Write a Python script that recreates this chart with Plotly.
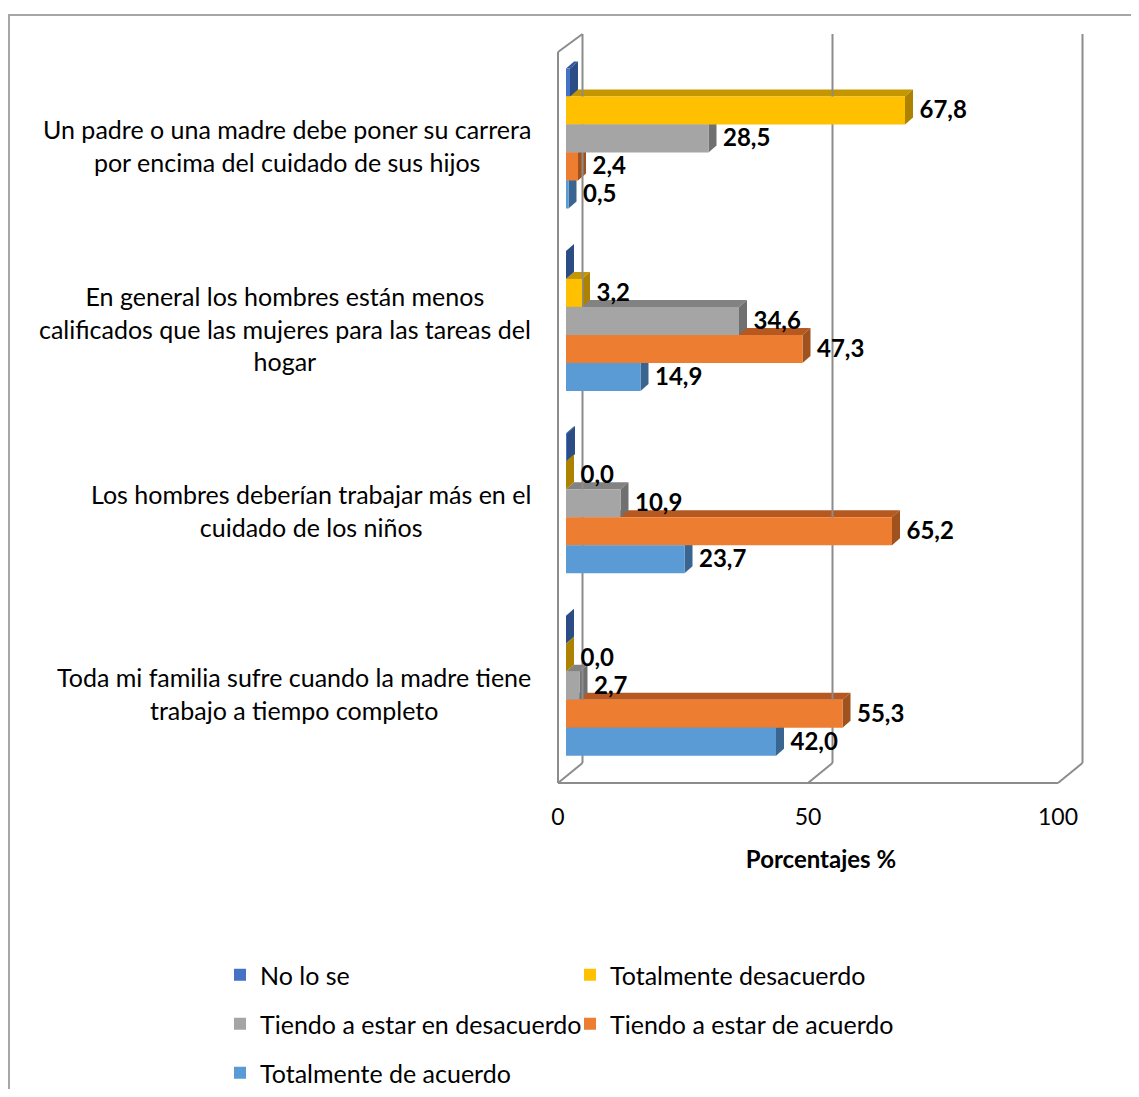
import plotly.graph_objects as go

# ---------------- data ----------------
categories = [
    "Un padre o una madre debe poner su carrera<br>por encima del cuidado de sus hijos",
    "En general los hombres están menos<br>calificados que las mujeres para las tareas del<br>hogar",
    "Los hombres deberían trabajar más en el<br>cuidado de los niños",
    "Toda mi familia sufre cuando la madre tiene<br>trabajo a tiempo completo",
]
series_names = [
    "No lo se",
    "Totalmente desacuerdo",
    "Tiendo a estar en desacuerdo",
    "Tiendo a estar de acuerdo",
    "Totalmente de acuerdo",
]
no_lo_se = [0.8, 0.0, 0.2, 0.0]
totalmente_desacuerdo = [67.8, 3.2, 0.0, 0.0]
tiendo_desacuerdo = [28.5, 34.6, 10.9, 2.7]
tiendo_acuerdo = [2.4, 47.3, 65.2, 55.3]
totalmente_acuerdo = [0.5, 14.9, 23.7, 42.0]
show_labels = [False, True, True, True, True]
x_ticks = [0, 50, 100]
x_title = "Porcentajes %"

series_values = [no_lo_se, totalmente_desacuerdo, tiendo_desacuerdo,
                 tiendo_acuerdo, totalmente_acuerdo]

# ---------------- styles ----------------
front_colors = ["#4472C4", "#FFC000", "#A5A5A5", "#ED7D31", "#5B9BD5"]
side_colors = ["#2C4C86", "#AD8200", "#707070", "#A0521E", "#3A6590"]
top_colors = ["#34599C", "#C49600", "#828282", "#B6581F", "#41719C"]
FONT = "Lato"
legend_rows = ["legend", "legend", "legend2", "legend2", "legend3"]
legend_row_px = {"legend": 975, "legend2": 1024, "legend3": 1073}

BODY = 8                      # page body margin (screen offset)
W, H = 1139 - 2 * BODY, 1097 - 2 * BODY
ML, MR, MT, MB = 548, 45, 24, 304
PX_PER_X = 5.0
PX_PER_CAT = 182.4
x_range = [-2.0, -2.0 + (W - ML - MR) / PX_PER_X]
y_top = -(138.5 - BODY - MT) / PX_PER_CAT
y_bot = y_top + (H - MT - MB) / PX_PER_CAT


def py(px):  # screen pixel row -> y data units (decoration only)
    return y_top + (px - BODY - MT) / PX_PER_CAT


def ppx(px):  # screen pixel col -> paper x
    return (px - BODY - ML) / (W - ML - MR)


def ppy(px):  # screen pixel row -> paper y
    return (H - MB - (px - BODY)) / (H - MT - MB)


bw = 28 / PX_PER_CAT
off0 = -2.5 * bw
ddx = 8 / PX_PER_X
ddy = 7 / PX_PER_CAT
ypos = list(range(len(categories)))

fig = go.Figure()
shapes = []

# 3D faces (top faces first, then side faces) drawn beneath the front bars
for kind in ("top", "side"):
    for i, vals in enumerate(series_values):
        for j, v in enumerate(vals):
            yt = ypos[j] + off0 + i * bw
            yb = yt + bw
            if kind == "top":
                path = (f"M 0,{yt} L {v},{yt} L {v + ddx},{yt - ddy} "
                        f"L {ddx},{yt - ddy} Z")
                col = top_colors[i]
            else:
                path = (f"M {v},{yt} L {v + ddx},{yt - ddy} "
                        f"L {v + ddx},{yb - ddy} L {v},{yb} Z")
                col = side_colors[i]
            shapes.append(dict(type="path", path=path, xref="x", yref="y",
                               fillcolor=col, line=dict(width=0),
                               layer="below"))

# front faces
for i, (name, vals) in enumerate(zip(series_names, series_values)):
    fig.add_trace(go.Bar(
        name=name, y=ypos, x=vals, orientation="h",
        width=bw, offset=off0 + i * bw,
        marker=dict(color=front_colors[i], line=dict(width=0)),
        hoverinfo="x+name", legend=legend_rows[i],
    ))

# data labels
for i, vals in enumerate(series_values):
    if not show_labels[i]:
        continue
    fig.add_trace(go.Scatter(
        x=[v + ddx + 1.3 for v in vals],
        y=[p + off0 + i * bw + bw / 2 + 0.01 for p in ypos],
        mode="text",
        text=[f"{v:.1f}".replace(".", ",") for v in vals],
        textposition="middle right",
        textfont=dict(family=FONT, size=24, color="black", weight="bold"),
        showlegend=False, hoverinfo="skip", cliponaxis=False,
    ))

# 3D wall frame
frame_col = "#8C8C8C"
xf0 = -1.6
xb0 = 3.3
ft, fb, bt, bb = py(52), py(783), py(34), py(763)


def seg(x0, y0, x1, y1):
    shapes.append(dict(type="line", xref="x", yref="y", x0=x0, y0=y0,
                       x1=x1, y1=y1, line=dict(color=frame_col, width=2),
                       layer="below"))


seg(xf0, ft, xf0, fb)
seg(xf0, ft, xb0, bt)
seg(xf0, fb, xb0, bb)
seg(xf0, fb, x_ticks[-1] + xf0, fb)
for t in x_ticks:
    seg(t + xb0, bt, t + xb0, bb)
    if t != x_ticks[0]:
        seg(t + xb0, bb, t + xf0, fb)

# outer chart border
shapes.append(dict(type="rect", xref="paper", yref="paper",
                   x0=ppx(BODY + 1), y0=ppy(1300), x1=ppx(1400), y1=ppy(15),
                   line=dict(color="#A6A6A6", width=2), layer="below"))

# category labels
annotations = []
for j, cat in enumerate(categories):
    annotations.append(dict(
        x=ppx(533), xref="paper", y=ypos[j] + 0.04, yref="y",
        text=cat, showarrow=False, xanchor="right", yanchor="middle",
        align="center", font=dict(family=FONT, size=25, color="black"),
    ))

legend_common = dict(orientation="h", xanchor="left", yanchor="middle",
                     entrywidth=305, entrywidthmode="pixels",
                     font=dict(family=FONT, size=25, color="black"),
                     itemwidth=30, traceorder="normal",
                     bgcolor="rgba(0,0,0,0)")
legends = {k: dict(legend_common, x=ppx(220), y=ppy(v))
           for k, v in legend_row_px.items()}

fig.update_layout(
    width=W, height=H,
    margin=dict(l=ML, r=MR, t=MT, b=MB, autoexpand=False),
    paper_bgcolor="white", plot_bgcolor="white",
    barmode="overlay",
    shapes=shapes, annotations=annotations,
    font=dict(family=FONT, size=23, color="black"),
    xaxis=dict(range=x_range, tickvals=x_ticks, showgrid=False,
               zeroline=False, showline=False, ticks="",
               ticklabelshift=-8, ticklabelstandoff=16,
               tickfont=dict(family=FONT, size=23, color="black"),
               title=dict(text=x_title, standoff=22,
                          font=dict(family=FONT, size=24, color="black",
                                    weight="bold"))),
    yaxis=dict(range=[y_bot, y_top], showgrid=False, zeroline=False,
               showline=False, showticklabels=False, ticks=""),
    showlegend=True,
    **legends,
)

fig.write_html("out.html")
